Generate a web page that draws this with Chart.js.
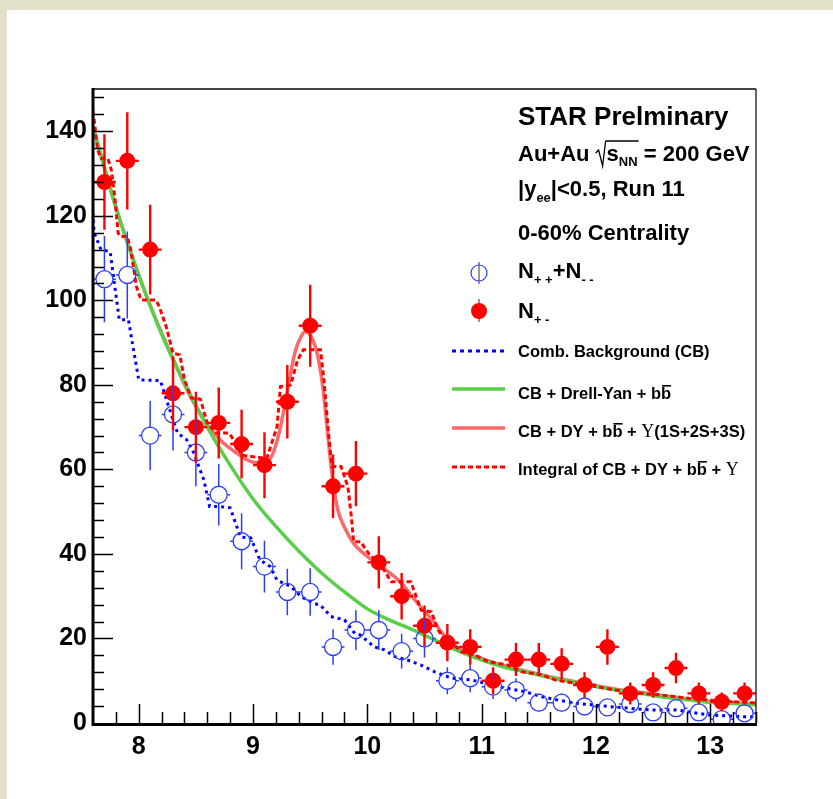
<!DOCTYPE html>
<html>
<head>
<meta charset="utf-8">
<script src="https://cdn.jsdelivr.net/npm/chart.js@4.4.1/dist/chart.umd.min.js"></script>
<style>
  html, body { margin: 0; padding: 0; background: #e2dfcb; }
  #wrap { width: 833px; height: 799px; }
</style>
</head>
<body>
<div id="wrap"><canvas id="myChart" width="833" height="799"></canvas></div>
<script>
// bin centres (GeV/c^2), bins are 0.2 wide
const binCenters = [7.7, 7.9, 8.1, 8.3, 8.5, 8.7, 8.9, 9.1, 9.3, 9.5, 9.7, 9.9, 10.1, 10.3, 10.5,
  10.7, 10.9, 11.1, 11.3, 11.5, 11.7, 11.9, 12.1, 12.3, 12.5, 12.7, 12.9, 13.1, 13.3];
const binHalfWidth = 0.1;

// N+- (unlike sign)
const unlikeSign = [128, 133, 112, 78, 70, 71, 66, 61, 76, 94, 56, 59, 38, 30, 23,
  19, 18, 10, 15, 15, 14, 9, 18, 7, 9, 13, 7, 5, 7];
const unlikeErr = [11.3, 11.5, 10.6, 8.8, 8.4, 8.4, 8.1, 7.8, 8.7, 9.7, 7.5, 7.7, 6.2, 5.5, 4.8,
  4.4, 4.2, 3.2, 3.9, 3.9, 3.7, 3, 4.2, 2.6, 3, 3.6, 2.6, 2.2, 2.6];

// N++ + N-- (like sign)
const likeSign = [105, 106, 68, 73, 64, 54, 43, 37, 31, 31, 18, 22, 22, 17, 20,
  10, 10.6, 8.6, 7.8, 4.8, 4.8, 3.9, 3.7, 4.5, 2.5, 3.5, 2.5, 0.9, 2.3];
const likeErr = [10.2, 10.3, 8.2, 8.5, 8, 7.3, 6.6, 6.1, 5.5, 5.6, 4.2, 4.7, 4.7, 4.1, 4.5,
  3.2, 3.3, 2.9, 2.8, 2.2, 2.2, 2, 1.9, 2.1, 1.6, 1.9, 1.6, 1, 1.5];

// Comb. Background (CB)
const cbX = [7.59, 7.61, 7.67, 7.75, 7.83, 7.91, 7.94, 8.0, 8.19, 8.3, 8.34, 8.42, 8.48, 8.57, 8.62,
  8.71, 8.8, 8.89, 8.98, 9.06, 9.15, 9.21, 9.33, 9.42, 9.53, 9.59, 9.68, 9.8, 9.89, 9.94,
  10.06, 10.15, 10.24, 10.35, 10.47, 10.59, 10.74, 10.91, 11.15, 11.38, 11.53, 11.67, 11.82,
  12.11, 12.47, 12.7, 12.99, 13.29, 13.43];
const cbY = [124, 116, 112, 111.5, 95.4, 95.4, 90.6, 81.2, 81, 71.7, 68.6, 67, 64, 57.5, 51.2,
  51.2, 50.9, 44, 43.8, 38.6, 37, 33.8, 32.3, 29.9, 28.3, 27.9, 25.2, 24.4, 21.2, 20.8,
  18, 17.3, 15.7, 14.9, 13.7, 12.1, 10.6, 10.2, 8.6, 7.4, 6.2, 5.4, 4.7,
  3.9, 3.1, 3.1, 1.9, 1.5, 1.5];

// CB + Drell-Yan + bb
const dyX = [7.6, 7.8, 8.0, 8.2, 8.4, 8.6, 8.8, 9.0, 9.2, 9.4, 9.6, 9.8, 10.0, 10.2, 10.4,
  10.6, 10.8, 11.0, 11.2, 11.4, 11.6, 11.8, 12.0, 12.2, 12.4, 12.6, 12.8, 13.0, 13.2, 13.4];
const dyY = [141, 122, 106, 92, 80.5, 70, 61, 53, 46.5, 40.7, 35.5, 31, 27, 24.3, 22,
  19.5, 17, 14.9, 13.2, 12, 10.7, 9.7, 8.6, 7.7, 7, 6.1, 5.5, 4.9, 4.6, 4.3];

// CB + DY + bb + Upsilon(1S+2S+3S)
const fitX = [7.6, 7.8, 8.0, 8.15, 8.27, 8.42, 8.57, 8.71, 8.86, 9.0, 9.1, 9.17, 9.24, 9.31, 9.37,
  9.42, 9.46, 9.5, 9.56, 9.61, 9.65, 9.69, 9.74, 9.8, 9.88, 10.0, 10.12, 10.24, 10.3, 10.44,
  10.59, 10.71, 10.85, 11.0, 11.2, 11.4, 11.6, 11.8, 12.0, 12.2, 12.4, 12.6, 12.8, 13.0, 13.2, 13.4];
const fitY = [141, 122, 106, 95.5, 88, 79, 71.8, 67, 63.8, 61.7, 61.5, 63.5, 70, 80, 88,
  91.4, 92.6, 91.8, 87.5, 79.6, 69.3, 59.1, 50.6, 46.3, 42.5, 39.4, 37, 34.6, 33, 28.3,
  23.6, 19.5, 16.8, 15.2, 13.5, 12.2, 10.9, 9.9, 8.8, 7.9, 7.2, 6.4, 5.7, 5.1, 4.8, 4.4];

// Integral of CB + DY + bb + Upsilon
const intX = [7.59, 7.61, 7.64, 7.67, 7.73, 7.76, 7.79, 7.82, 7.84, 7.9, 7.93, 7.98, 8.02, 8.15, 8.18,
  8.24, 8.3, 8.36, 8.4, 8.46, 8.54, 8.6, 8.68, 8.79, 8.83, 8.9, 9.0, 9.12, 9.21, 9.24,
  9.33, 9.39, 9.44, 9.59, 9.62, 9.66, 9.69, 9.77, 9.83, 9.86, 9.88, 9.94, 10.03, 10.09, 10.21,
  10.38, 10.47, 10.56, 10.62, 10.68, 10.74, 10.82, 10.94, 11.06, 11.23, 11.35, 11.53, 11.64, 11.82,
  12.0, 12.17, 12.41, 12.58, 12.82, 12.99, 13.43];
const intY = [146.7, 142.7, 135.6, 133.6, 133.6, 130.9, 124.6, 115.9, 115.1, 115.1, 112, 103.3, 100.1, 100.1, 98.5,
  93.8, 87.5, 87.1, 81.2, 76.9, 76.6, 70.9, 68.6, 68.6, 67, 63.4, 63, 62.6, 70.1, 79.6,
  80, 85.9, 88.3, 88.3, 81.2, 68.6, 60.7, 60.7, 55.9, 48.8, 42.9, 42.9, 39.4, 38.6, 33.4,
  33.4, 26.7, 26.3, 22, 19.6, 18.9, 16.9, 16.1, 14.5, 13.7, 12.1, 11.4, 10.2, 9.4,
  8.6, 7.8, 7, 6.6, 5.8, 5.4, 4.7];

// axes
const xMin = 7.6, xMax = 13.4;
const yMin = 0, yMax = 150;
const xTicks = [8, 9, 10, 11, 12, 13];
const yTicks = [0, 20, 40, 60, 80, 100, 120, 140];
const xMinorStep = 0.2;
const yMinorStep = 4;

const RED = "#ff0000";
const BLUE = "#0000ff";
const MARK_BLUE = "#2a3cff";
const GREEN = "#58cf48";
const PINK = "#fa6a6a";
const FONT = "'Liberation Sans', Arial, Helvetica, sans-serif";

const ctx = document.getElementById("myChart");

function xy(xs, ys) {
  return xs.map((x, i) => ({ x: x, y: ys[i] }));
}

// beige page with the white pad on it
const backgroundPlugin = {
  id: "background",
  beforeDraw(chart) {
    const c = chart.ctx;
    c.save();
    c.fillStyle = "#e2dfcb";
    c.fillRect(0, 0, chart.width, chart.height);
    c.fillStyle = "#ffffff";
    c.fillRect(7, 10, chart.width - 7, chart.height - 10);
    c.restore();
  }
};

// error bars, not drawn inside the marker
const errorBarPlugin = {
  id: "errorBars",
  afterDatasetsDraw(chart) {
    const c = chart.ctx;
    const xs = chart.scales.x, ys = chart.scales.y;
    const area = chart.chartArea;
    function draw(vals, errs, color, width, r) {
      c.strokeStyle = color;
      c.lineWidth = width;
      vals.forEach((v, i) => {
        const px = xs.getPixelForValue(binCenters[i]);
        const py = ys.getPixelForValue(v);
        const top = Math.max(ys.getPixelForValue(v + errs[i]), area.top);
        const bot = Math.min(ys.getPixelForValue(v - errs[i]), area.bottom);
        const left = xs.getPixelForValue(binCenters[i] - binHalfWidth);
        const right = xs.getPixelForValue(binCenters[i] + binHalfWidth);
        c.beginPath();
        if (top < py - r) { c.moveTo(px, py - r); c.lineTo(px, top); }
        if (bot > py + r) { c.moveTo(px, py + r); c.lineTo(px, bot); }
        c.moveTo(px - r, py); c.lineTo(Math.max(left, area.left), py);
        c.moveTo(px + r, py); c.lineTo(Math.min(right, area.right), py);
        c.stroke();
      });
    }
    c.save();
    draw(likeSign, likeErr, MARK_BLUE, 1.5, 8.5);
    draw(unlikeSign, unlikeErr, RED, 2.4, 7.5);
    c.restore();
  }
};

// ROOT style frame with inward ticks
const framePlugin = {
  id: "frame",
  afterDraw(chart) {
    const c = chart.ctx;
    const a = chart.chartArea;
    const xs = chart.scales.x, ys = chart.scales.y;
    c.save();
    c.strokeStyle = "#000";
    c.lineWidth = 1.5;
    c.beginPath();
    for (let v = 7.8; v < xMax; v += xMinorStep) {
      const px = Math.round(xs.getPixelForValue(v)) + 0.5;
      const major = xTicks.some(t => Math.abs(t - v) < 1e-6);
      c.moveTo(px, a.bottom);
      c.lineTo(px, a.bottom - (major ? 19 : 11));
    }
    for (let v = yMinorStep; v < yMax; v += yMinorStep) {
      const py = Math.round(ys.getPixelForValue(v)) + 0.5;
      const major = yTicks.includes(v);
      c.moveTo(a.left, py);
      c.lineTo(a.left + (major ? 20 : 11), py);
    }
    c.stroke();

    c.strokeStyle = "#444";
    c.lineWidth = 2;
    c.beginPath();
    c.moveTo(a.left, a.top);
    c.lineTo(a.right, a.top);
    c.stroke();
    c.strokeStyle = "#000";
    c.lineWidth = 1.2;
    c.beginPath();
    c.moveTo(a.right, a.top);
    c.lineTo(a.right, a.bottom);
    c.stroke();
    c.lineWidth = 3;
    c.beginPath();
    c.moveTo(a.left, a.top - 1);
    c.lineTo(a.left, a.bottom + 1.5);
    c.lineTo(a.right + 1, a.bottom + 1.5);
    c.stroke();
    c.restore();
  }
};

// text with sub scripts and overlines
function drawRich(c, x, y, parts) {
  let cx = x;
  parts.forEach(p => {
    c.font = p.font;
    const w = c.measureText(p.t).width;
    c.fillText(p.t, cx, y + (p.dy || 0));
    if (p.bar) {
      c.fillRect(cx + 1, y - p.bar, w - 1, 1.6);
    }
    cx += w + (p.gap || 0);
  });
  return cx;
}

const legendPlugin = {
  id: "starLegend",
  afterDraw(chart) {
    const c = chart.ctx;
    const big = "bold 26px " + FONT;
    const mid = "bold 22px " + FONT;
    const sub = "bold 13px " + FONT;
    const small = "bold 16.5px " + FONT;
    const ups = "18px 'Liberation Serif', 'DejaVu Serif', serif";
    const tx = 518;
    c.save();
    c.fillStyle = "#000";
    c.textBaseline = "alphabetic";
    c.textAlign = "left";

    c.font = big;
    c.fillText("STAR Prelminary", tx, 125);

    // Au+Au sqrt(s_NN) = 200 GeV
    let cx = drawRich(c, tx, 161, [{ t: "Au+Au ", font: mid }]);
    c.strokeStyle = "#000";
    c.lineWidth = 1.3;
    c.beginPath();
    c.moveTo(cx, 153);
    c.lineTo(cx + 3, 150);
    c.lineTo(cx + 7, 166);
    c.lineTo(cx + 10, 141);
    c.stroke();
    const rootStart = cx + 10;
    cx = drawRich(c, rootStart + 1, 161, [
      { t: "s", font: mid },
      { t: "NN", font: sub, dy: 5 }
    ]);
    c.beginPath();
    c.moveTo(rootStart, 141);
    c.lineTo(cx + 1, 141);
    c.stroke();
    drawRich(c, cx, 161, [{ t: " = 200 GeV", font: mid }]);

    drawRich(c, tx, 196, [
      { t: "|y", font: mid },
      { t: "ee", font: sub, dy: 6 },
      { t: "|<0.5, Run 11", font: mid }
    ]);

    c.font = mid;
    c.fillText("0-60% Centrality", tx, 240);

    // marker entries
    c.fillStyle = "#000";
    drawRich(c, tx, 278, [
      { t: "N", font: mid },
      { t: "+ +", font: sub, dy: 6 },
      { t: "+N", font: mid },
      { t: "- -", font: sub, dy: 6 }
    ]);
    drawRich(c, tx, 318, [
      { t: "N", font: mid },
      { t: "+ -", font: sub, dy: 6 }
    ]);

    c.strokeStyle = "#555";
    c.lineWidth = 1.2;
    c.beginPath();
    c.moveTo(479, 262); c.lineTo(479, 284);
    c.moveTo(479, 299); c.lineTo(479, 322);
    c.stroke();
    c.strokeStyle = MARK_BLUE;
    c.lineWidth = 1.2;
    c.beginPath();
    c.arc(479, 273, 8, 0, Math.PI * 2);
    c.stroke();
    c.fillStyle = RED;
    c.beginPath();
    c.arc(479, 311, 8, 0, Math.PI * 2);
    c.fill();

    // line entries
    const lx0 = 452, lx1 = 505;
    function sample(y, color, dash, width) {
      c.strokeStyle = color;
      c.lineWidth = width;
      c.setLineDash(dash);
      c.beginPath();
      c.moveTo(lx0, y);
      c.lineTo(lx1, y);
      c.stroke();
      c.setLineDash([]);
    }
    sample(351, BLUE, [4, 4], 3);
    sample(389, GREEN, [], 3.5);
    sample(428, PINK, [], 3.5);
    sample(467, RED, [5, 3], 3);

    c.fillStyle = "#000";
    c.font = small;
    c.fillText("Comb. Background (CB)", tx, 357);

    drawRich(c, tx, 399, [
      { t: "CB + Drell-Yan + b", font: small },
      { t: "b", font: small, bar: 14 }
    ]);
    drawRich(c, tx, 437, [
      { t: "CB + DY + b", font: small },
      { t: "b", font: small, bar: 14 },
      { t: " + ", font: small },
      { t: "\u03A5", font: ups },
      { t: "(1S+2S+3S)", font: small }
    ]);
    drawRich(c, tx, 475, [
      { t: "Integral of CB + DY + b", font: small },
      { t: "b", font: small, bar: 14 },
      { t: " + ", font: small },
      { t: "\u03A5", font: ups }
    ]);
    c.restore();
  }
};

const myChart = new Chart(ctx, {
  type: "scatter",
  data: {
    datasets: [
      {
        label: "N+-",
        data: xy(binCenters, unlikeSign),
        pointStyle: "circle",
        pointRadius: 8,
        pointBackgroundColor: RED,
        pointBorderColor: RED,
        pointBorderWidth: 0,
        showLine: false,
        order: 0
      },
      {
        label: "N++ + N--",
        data: xy(binCenters, likeSign),
        pointStyle: "circle",
        pointRadius: 8.5,
        pointBackgroundColor: "rgba(0,0,0,0)",
        pointBorderColor: MARK_BLUE,
        pointBorderWidth: 1.3,
        showLine: false,
        order: 1
      },
      {
        label: "Integral of CB + DY + bb + Upsilon",
        type: "line",
        data: xy(intX, intY),
        borderColor: RED,
        borderWidth: 3,
        borderDash: [5, 3],
        pointRadius: 0,
        tension: 0,
        order: 2
      },
      {
        label: "CB + Drell-Yan + bb",
        type: "line",
        data: xy(dyX, dyY),
        borderColor: GREEN,
        borderWidth: 3.5,
        pointRadius: 0,
        cubicInterpolationMode: "monotone",
        order: 3
      },
      {
        label: "CB + DY + bb + Upsilon(1S+2S+3S)",
        type: "line",
        data: xy(fitX, fitY),
        borderColor: PINK,
        borderWidth: 3.5,
        pointRadius: 0,
        cubicInterpolationMode: "monotone",
        order: 4
      },
      {
        label: "Comb. Background (CB)",
        type: "line",
        data: xy(cbX, cbY),
        borderColor: BLUE,
        borderWidth: 3,
        borderDash: [3, 4],
        pointRadius: 0,
        tension: 0,
        order: 5
      }
    ]
  },
  options: {
    responsive: false,
    devicePixelRatio: 1,
    animation: false,
    layout: { padding: { top: 89, right: 77, left: 0, bottom: 0 } },
    plugins: {
      legend: { display: false },
      tooltip: { enabled: false }
    },
    scales: {
      x: {
        type: "linear",
        min: xMin,
        max: xMax,
        afterBuildTicks(scale) { scale.ticks = xTicks.map(v => ({ value: v })); },
        afterFit(scale) { scale.height = 76; },
        grid: { display: false, drawTicks: false },
        border: { display: false },
        ticks: { color: "#000", font: { family: FONT, size: 25, weight: "bold" }, padding: 9 }
      },
      y: {
        type: "linear",
        min: yMin,
        max: yMax,
        afterBuildTicks(scale) { scale.ticks = yTicks.map(v => ({ value: v })); },
        afterFit(scale) { scale.width = 93; },
        grid: { display: false, drawTicks: false },
        border: { display: false },
        ticks: { color: "#000", font: { family: FONT, size: 25, weight: "bold" }, padding: 6 }
      }
    }
  },
  plugins: [backgroundPlugin, errorBarPlugin, framePlugin, legendPlugin]
});
</script>
</body>
</html>
